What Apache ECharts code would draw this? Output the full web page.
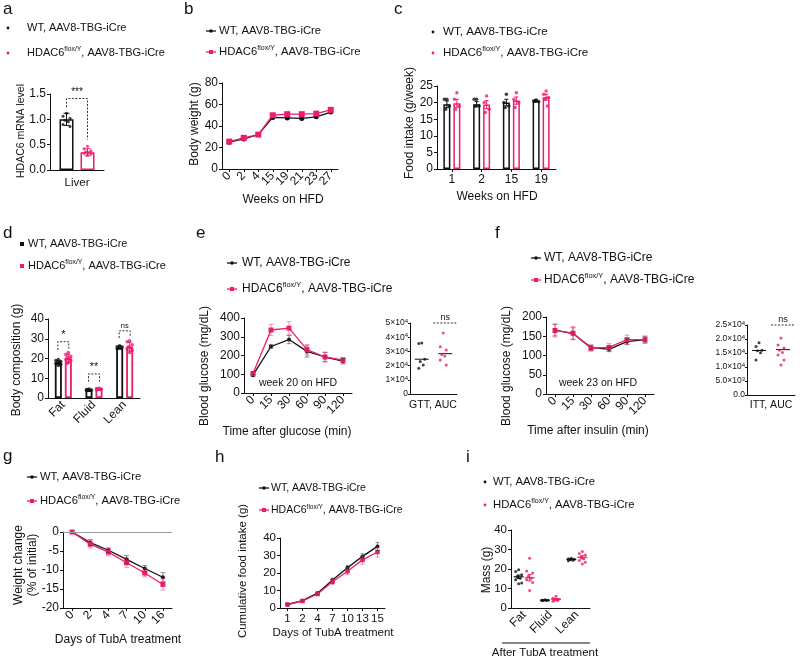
<!DOCTYPE html>
<html><head><meta charset="utf-8">
<script src="https://cdn.jsdelivr.net/npm/echarts@6/dist/echarts.min.js"></script>
<style>html,body{margin:0;padding:0;background:#fff}#c{width:800px;height:659px}</style>
</head><body><div id="c"></div>
<script>
// ---------------- DATA ----------------
// a
const aCats = ['Liver'];
const aWTmean = [1.0], aKOmean = [0.35];
const aWTsd = [0.12], aKOsd = [0.07];
const aWTdots = [[1.12, 1.06, 1.02, 0.98, 0.95, 0.90, 0.86]];
const aKOdots = [[0.47, 0.42, 0.38, 0.36, 0.35, 0.33, 0.31, 0.29]];
// b
const bWeeks = ['0', '2', '4', '15', '19', '21', '23', '27'];
const bWT = [25, 28, 32, 48, 47.5, 47, 48.5, 53];
const bKO = [25.5, 29, 32, 50, 51, 51, 51.5, 55];
// c
const cWeeks = ['1', '2', '15', '19'];
const cWTmean = [19.5, 19.5, 20, 20.5], cKOmean = [19.8, 19.4, 20.6, 21.6];
const cWTsem = [1.0, 0.8, 1.0, 0.3], cKOsem = [1.2, 1.2, 1.1, 0.9];
const cWTdots = [[21, 21, 19, 18], [21, 21, 19, 19], [22.5, 20, 19, 18.5], [20.8, 20.5, 20.3, 20.5]];
const cKOdots = [[23, 21, 19, 18], [22, 20, 18, 17], [23, 21, 20, 18.5], [23.5, 22.5, 21.5, 21, 19]];
// d
const dCats = ['Fat', 'Fluid', 'Lean'];
const dWTmean = [18, 4, 25.6], dKOmean = [20, 4.6, 26];
const dWTsd = [1.0, 0.4, 0.8], dKOsd = [2.0, 0.4, 2.2];
const dWTdots = [[19.5, 19, 18.5, 18, 18, 17.5, 17, 16.5], [4.5, 4.3, 4.1, 4, 3.9, 3.8], [26.5, 26, 25.8, 25.5, 25.2, 25]];
const dKOdots = [[23, 22, 21, 20.5, 20, 19.5, 19, 18, 17.5], [5, 4.8, 4.6, 4.5, 4.4, 4.2], [29, 28.5, 27, 26, 25.5, 25, 24, 23]];
// e
const eTimes = ['0', '15', '30', '60', '90', '120'];
const eWT = [95, 248, 285, 222, 192, 170], eWTerr = [6, 10, 22, 30, 25, 15];
const eKO = [104, 336, 346, 231, 192, 175], eKOerr = [8, 30, 35, 28, 25, 15];
const gttCats = ['WT', 'KO'];
const gttWT = [36000, 35500, 24400, 22800, 20500, 18100];
const gttKO = [43000, 33300, 31000, 27900, 26700, 24000, 20500];
const gttMed = [24500, 28400];
// f
const fTimes = ['0', '15', '30', '60', '90', '120'];
const fWT = [166, 157, 121, 116, 136, 141], fWTerr = [15, 15, 6, 6, 8, 8];
const fKO = [165, 158, 119, 121, 141, 141], fKOerr = [17, 17, 8, 10, 12, 10];
const ittCats = ['WT', 'KO'];
const ittWT = [18700, 17300, 16000, 15800, 15100, 12500];
const ittKO = [20400, 17900, 16800, 16000, 15200, 14300, 12500, 10700];
const ittMed = [15900, 16200];
// g
const gDays = ['0', '2', '4', '7', '10', '16'];
const gWT = [0, -2.8, -4.8, -7.2, -9.6, -11.9], gWTerr = [0, 0.8, 0.6, 1.0, 0.8, 1.2];
const gKO = [0, -3.2, -5.3, -8.1, -10.8, -13.8], gKOerr = [0, 1.0, 1.0, 1.2, 1.0, 1.5];
// h
const hDays = ['1', '2', '4', '7', '10', '13', '15'];
const hWT = [2, 4.2, 8.5, 16, 23, 29.5, 35.2], hWTerr = [0.3, 0.5, 0.7, 1, 1.2, 1.5, 2.3];
const hKO = [2, 4, 8, 15, 21, 27.5, 32], hKOerr = [0.3, 0.5, 0.7, 1.5, 2, 2.5, 3];
// i
const iCats = ['Fat', 'Fluid', 'Lean'];
const iWTdots = [[19.6, 18.7, 17, 16.2, 15.3, 14.5, 12.8, 12.5], [4.2, 4, 4, 3.9, 3.8, 3.8], [25.5, 25.2, 25, 24.7, 24.5, 24.2]];
const iKOdots = [[25.5, 19, 17.9, 16.2, 15.3, 14.5, 13.1, 9], [6, 5, 4.5, 4, 3.8, 3.5], [29, 28, 27.2, 26, 25.2, 24.3, 23.5, 22.6]];
const iWTmean = [16, 4, 24.9], iKOmean = [15.5, 4.5, 26];
const iWTsem = [0.9, 0.1, 0.2], iKOsem = [1.6, 0.4, 0.8];

// ---------------- STYLE / HELPERS ----------------
const FONT = "'Liberation Sans', Arial, Helvetica, sans-serif";
const BLK = '#111111';
const PINK = '#ec1c6e';
const PINK_L = 'rgba(236,28,110,0.45)';
const GRAY_E = 'rgba(60,60,60,0.55)';
const grids = [], xAxes = [], yAxes = [], series = [], graphics = [];

function panel(rect, xCats, yMin, yMax, yInt, o) {
  o = o || {};
  const gi = grids.length;
  grids.push({left: rect[0], top: rect[1], width: rect[2], height: rect[3]});
  xAxes.push({gridIndex: gi, type: 'category', data: xCats, boundaryGap: true,
    axisLine: {show: true, onZero: false, lineStyle: {color: BLK, width: 1}},
    axisTick: {show: o.xTick !== false, alignWithLabel: true, length: 3, lineStyle: {color: BLK}},
    axisLabel: {show: o.xLabel !== false, rotate: o.rot || 0, color: BLK, fontSize: o.xfs || 11.5, fontFamily: FONT, margin: o.xMargin || 5, interval: 0},
    splitLine: {show: false}});
  yAxes.push({gridIndex: gi, type: 'value', min: yMin, max: yMax, interval: yInt,
    axisLine: {show: true, lineStyle: {color: BLK, width: 1}},
    axisTick: {show: true, length: o.yTickLen || 3, lineStyle: {color: BLK}},
    axisLabel: {color: BLK, fontSize: o.yfs || 11.5, fontFamily: FONT, margin: o.yMargin || 4, formatter: o.yFmt, rich: o.rich},
    splitLine: {show: false}});
  return gi;
}
function bar(gi, vals, color, w, gap, bw) {
  series.push({type: 'bar', xAxisIndex: gi, yAxisIndex: gi, data: vals, barWidth: w, barGap: gap, silent: true, z: 2,
    itemStyle: {color: '#ffffff', borderColor: color, borderWidth: bw || 1.5}});
}
function errBars(gi, means, errs, color, dx, capW, lw) {
  series.push({type: 'custom', xAxisIndex: gi, yAxisIndex: gi, silent: true, z: 5,
    data: means.map((m, i) => [i, m, errs[i]]),
    renderItem: (p, api) => {
      const i = api.value(0), m = api.value(1), e = api.value(2);
      if (!e) return null;
      const t = api.coord([i, m + e]), b = api.coord([i, m - e]);
      const x = t[0] + dx, s = {stroke: color, lineWidth: lw || 1};
      return {type: 'group', children: [
        {type: 'line', shape: {x1: x, y1: t[1], x2: x, y2: b[1]}, style: s},
        {type: 'line', shape: {x1: x - capW / 2, y1: t[1], x2: x + capW / 2, y2: t[1]}, style: s},
        {type: 'line', shape: {x1: x - capW / 2, y1: b[1], x2: x + capW / 2, y2: b[1]}, style: s}]};
    }});
}
function hLines(gi, vals, color, dx, halfW, lw) {
  series.push({type: 'custom', xAxisIndex: gi, yAxisIndex: gi, silent: true, z: 5,
    data: vals.map((v, i) => [i, v]),
    renderItem: (p, api) => {
      const c = api.coord([api.value(0), api.value(1)]);
      const x = c[0] + dx;
      return {type: 'line', shape: {x1: x - halfW, y1: c[1], x2: x + halfW, y2: c[1]}, style: {stroke: color, lineWidth: lw || 1}};
    }});
}
const JIT = [0, -1, 1, -0.5, 0.5, -1, 1, 0, -0.5];
function dots(gi, groups, color, dx, spread, size, sym) {
  const data = [];
  groups.forEach((vals, ci) => vals.forEach((v, k) => {
    data.push({value: [ci, v], symbolOffset: [dx + JIT[k % JIT.length] * spread, 0]});
  }));
  series.push({type: 'scatter', xAxisIndex: gi, yAxisIndex: gi, data: data, symbol: sym || 'circle', symbolSize: size,
    itemStyle: {color: color}, silent: true, z: 6});
}
function line(gi, vals, color, sym, size, extra) {
  const s = {type: 'line', xAxisIndex: gi, yAxisIndex: gi, data: vals, symbol: sym, symbolSize: size, showSymbol: true,
    lineStyle: {color: color, width: 1.3}, itemStyle: {color: color}, silent: true, z: 4};
  Object.assign(s, extra || {});
  series.push(s);
}
function bracket(gi, ci, yTop, yL, yR, dx, label, fs, legs) {
  series.push({type: 'custom', xAxisIndex: gi, yAxisIndex: gi, silent: true, z: 7,
    data: [[ci, yTop, yL, yR]],
    renderItem: (p, api) => {
      const t = api.coord([api.value(0), api.value(1)]);
      const l = api.coord([api.value(0), api.value(2)]);
      const r = api.coord([api.value(0), api.value(3)]);
      const x1 = t[0] - dx, x2 = t[0] + dx;
      const pts = legs === false ? [[x1, t[1]], [x2, t[1]]] : [[x1, l[1]], [x1, t[1]], [x2, t[1]], [x2, r[1]]];
      return {type: 'group', children: [
        {type: 'polyline', shape: {points: pts}, style: {stroke: '#333', fill: null, lineWidth: 1, lineDash: [2, 1.5]}},
        {type: 'text', x: t[0], y: t[1] - 1, style: {text: label, fill: BLK, fontSize: fs, fontFamily: FONT, align: 'center', verticalAlign: 'bottom'}}
      ]};
    }});
}
function txt(x, y, s, fs, o) {
  o = o || {};
  graphics.push({type: 'text', x: x, y: y, rotation: o.rot || 0, silent: true,
    style: {text: s, fontSize: fs, fontFamily: FONT, fill: BLK, align: o.align || 'center', verticalAlign: o.va || 'middle'}});
}
function vtxt(x, y, s, fs) { txt(x, y, s, fs, {rot: Math.PI / 2}); }
function legend(x, y, tx, fs, mk, color, isKO) {
  if (mk === 'dot') graphics.push({type: 'circle', shape: {cx: x, cy: y, r: 1.4}, style: {fill: color}});
  else if (mk === 'sq') graphics.push({type: 'rect', shape: {x: x - 2, y: y - 2, width: 4, height: 4}, style: {fill: color}});
  else {
    graphics.push({type: 'line', shape: {x1: x - 5, y1: y, x2: x + 5, y2: y}, style: {stroke: color, lineWidth: 1.3}});
    if (isKO) graphics.push({type: 'rect', shape: {x: x - 2, y: y - 2, width: 4, height: 4}, style: {fill: color}});
    else graphics.push({type: 'circle', shape: {cx: x, cy: y, r: 1.8}, style: {fill: color}});
  }
  const text = isKO ? '{n|HDAC6}{s|flox/Y}{n|, AAV8-TBG-iCre}' : '{n|WT, AAV8-TBG-iCre}';
  graphics.push({type: 'text', x: tx, y: y, silent: true,
    style: {text: text, fill: BLK, align: 'left', verticalAlign: 'middle', fontSize: fs, fontFamily: FONT,
      rich: {n: {fontSize: fs, fontFamily: FONT, fill: BLK, lineHeight: fs + 3},
             s: {fontSize: fs * 0.62, fontFamily: FONT, fill: BLK, verticalAlign: 'top', lineHeight: fs + 3}}}});
}
function letter(x, y, s) { txt(x, y, s, 17, {align: 'left'}); }

// ---------------- PANEL a ----------------
letter(3, 9, 'a');
legend(8, 28, 27, 11, 'dot', BLK, false);
legend(8, 53, 27, 11, 'dot', PINK, true);
const ga = panel([50, 94, 54, 76], aCats, 0, 1.5, 0.5, {yFmt: v => v.toFixed(1), xMargin: 7, xTick: false, yfs: 12});
bar(ga, aWTmean, BLK, 14, '50%');
bar(ga, aKOmean, PINK, 14, '50%');
errBars(ga, aWTmean, aWTsd, BLK, -10.5, 6);
errBars(ga, aKOmean, aKOsd, PINK, 10.5, 6);
dots(ga, aWTdots, BLK, -10.5, 3.5, 3);
dots(ga, aKOdots, PINK, 10.5, 3.5, 3);
bracket(ga, 0, 1.41, 1.24, 0.6, 10.5, '***', 10);
vtxt(21, 131, 'HDAC6 mRNA level', 10.5);

// ---------------- PANEL b ----------------
letter(184, 9, 'b');
legend(211, 31, 219, 11.3, 'line', BLK, false);
legend(211, 52, 219, 11.3, 'line', PINK, true);
const gb = panel([222, 83, 116, 86], bWeeks, 0, 80, 20, {rot: 45, xfs: 12, yfs: 12});
line(gb, bWT, BLK, 'circle', 5);
line(gb, bKO, PINK, 'rect', 6);
vtxt(195, 124, 'Body weight (g)', 12);
txt(283, 200, 'Weeks on HFD', 12);

// ---------------- PANEL c ----------------
letter(394, 9, 'c');
legend(433, 32, 443, 11.6, 'dot', BLK, false);
legend(433, 53, 443, 11.6, 'dot', PINK, true);
const gc = panel([437, 86, 119, 83], cWeeks, 0, 25, 5, {xMargin: 5, xfs: 12, yfs: 12});
bar(gc, cWTmean, BLK, 7, '43%');
bar(gc, cKOmean, PINK, 7, '43%');
errBars(gc, cWTmean, cWTsem, BLK, -5, 4);
errBars(gc, cKOmean, cKOsem, PINK, 5, 4);
dots(gc, cWTdots, BLK, -5, 2.5, 3.5);
dots(gc, cKOdots, PINK, 5, 2.5, 3.5);
vtxt(410, 123, 'Food intake (g/week)', 12);
txt(497, 197, 'Weeks on HFD', 12);

// ---------------- PANEL d ----------------
letter(3, 233, 'd');
legend(22, 244, 28, 11, 'sq', BLK, false);
legend(22, 266, 28, 11, 'sq', PINK, true);
const gd = panel([48, 319, 92, 79], dCats, 0, 40, 10, {rot: 45, xTick: false, xfs: 12, yfs: 12});
bar(gd, dWTmean, BLK, 7, '43%', 1.8);
bar(gd, dKOmean, PINK, 7, '43%', 1.8);
errBars(gd, dWTmean, dWTsd, BLK, -5, 4);
errBars(gd, dKOmean, dKOsd, PINK, 5, 4);
dots(gd, dWTdots, BLK, -5, 2.5, 3.5);
dots(gd, dKOdots, PINK, 5, 2.5, 3.5);
bracket(gd, 0, 28.5, 24.3, 25, 5.5, '*', 11);
bracket(gd, 1, 12.2, 8.3, 8.3, 5.5, '**', 11);
bracket(gd, 2, 34, 30.4, 31, 5.5, 'ns', 7.5);
vtxt(17, 360, 'Body composition (g)', 12);

// ---------------- PANEL e ----------------
letter(196, 233, 'e');
legend(232, 263, 242, 12, 'line', BLK, false);
legend(232, 289, 242, 12, 'line', PINK, true);
const ge = panel([244, 318, 108, 75], eTimes, 0, 400, 100, {rot: 45, xfs: 12, yfs: 12});
errBars(ge, eWT, eWTerr, GRAY_E, 0, 5);
errBars(ge, eKO, eKOerr, PINK_L, 0, 5);
line(ge, eWT, BLK, 'circle', 4);
line(ge, eKO, PINK, 'rect', 5);
txt(298, 383, 'week 20 on HFD', 10.5);
vtxt(205, 366, 'Blood glucose (mg/dL)', 12);
txt(287, 432, 'Time after glucose (min)', 12);
// GTT AUC inset
const supRich = {n: {fontSize: 8.5, fontFamily: FONT, fill: BLK}, s: {fontSize: 6, fontFamily: FONT, fill: BLK, verticalAlign: 'top'}};
const ge2 = panel([410, 323, 47, 71], gttCats, 0, 50000, 10000, {xLabel: false, xTick: false, yfs: 8.5, yTickLen: 2, yMargin: 2,
  rich: supRich, yFmt: v => v === 0 ? '{n|0}' : '{n|' + (v / 1e4) + '×10}{s|4}'});
dots(ge2, [gttWT], BLK, 0, 3, 3);
dots(ge2, [[], gttKO], PINK, -2, 3, 3);
hLines(ge2, gttMed, BLK, 0, 7, 1);
bracket(ge2, 0.5, 50000, 50000, 50000, 12, 'ns', 9, false);
txt(433, 405, 'GTT, AUC', 10.5);

// ---------------- PANEL f ----------------
letter(495, 233, 'f');
legend(536, 258, 544, 12, 'line', BLK, false);
legend(536, 280, 544, 12, 'line', PINK, true);
const gf = panel([546, 317, 108, 77], fTimes, 0, 200, 50, {rot: 45, xfs: 12, yfs: 12});
errBars(gf, fWT, fWTerr, GRAY_E, 0, 5);
errBars(gf, fKO, fKOerr, PINK_L, 0, 5);
line(gf, fWT, BLK, 'circle', 4);
line(gf, fKO, PINK, 'rect', 5);
txt(598, 383, 'week 23 on HFD', 10.5);
vtxt(507, 366, 'Blood glucose (mg/dL)', 12);
txt(588, 431, 'Time after insulin (min)', 12);
// ITT AUC inset
const ge3 = panel([747, 325, 48, 70], ittCats, 0, 25000, 5000, {xLabel: false, xTick: false, yfs: 8.5, yTickLen: 2, yMargin: 2,
  rich: supRich, yFmt: v => v === 0 ? '{n|0.0}' : (v < 10000 ? '{n|' + (v / 1e3).toFixed(1) + '×10}{s|3}' : '{n|' + (v / 1e4).toFixed(1) + '×10}{s|4}')});
dots(ge3, [ittWT], BLK, 0, 3, 3);
dots(ge3, [[], ittKO], PINK, -2, 3, 3);
hLines(ge3, ittMed, BLK, 0, 7, 1);
bracket(ge3, 0.5, 25000, 25000, 25000, 12, 'ns', 9, false);
txt(771, 405, 'ITT, AUC', 10.5);

// ---------------- PANEL g ----------------
letter(3, 456, 'g');
legend(32, 477, 40, 11.2, 'line', BLK, false);
legend(32, 501, 40, 11.2, 'line', PINK, true);
const gg = panel([63, 532, 109, 76], gDays, -20, 0, 5, {rot: 45, xfs: 12, yfs: 12});
errBars(gg, gWT, gWTerr, GRAY_E, 0, 5);
errBars(gg, gKO, gKOerr, PINK_L, 0, 5);
line(gg, gWT, BLK, 'circle', 4, {markLine: {silent: true, symbol: 'none', label: {show: false}, animation: false,
  lineStyle: {color: '#9a9a9a', type: 'solid', width: 1}, data: [{yAxis: 0}]}});
line(gg, gKO, PINK, 'rect', 5);
vtxt(19, 565, 'Weight change', 12);
vtxt(33, 565, '(% of initial)', 12);
txt(118, 640, 'Days of TubA treatment', 12);

// ---------------- PANEL h ----------------
letter(215, 457, 'h');
legend(264, 488, 271, 10.5, 'line', BLK, false);
legend(264, 510, 271, 10.5, 'line', PINK, true);
const gh = panel([280, 538, 105, 70], hDays, 0, 40, 10, {xMargin: 5});
errBars(gh, hWT, hWTerr, GRAY_E, 0, 4);
errBars(gh, hKO, hKOerr, PINK_L, 0, 4);
line(gh, hWT, BLK, 'circle', 4);
line(gh, hKO, PINK, 'rect', 4.5);
vtxt(243, 571, 'Cumulative food intake (g)', 11.5);
txt(333, 633, 'Days of TubA treatment', 11.5);

// ---------------- PANEL i ----------------
letter(466, 457, 'i');
legend(485, 482, 493, 11.3, 'dot', BLK, false);
legend(485, 505, 493, 11.3, 'dot', PINK, true);
const gI = panel([511, 530, 79, 78], iCats, 0, 40, 10, {rot: 45, xTick: false, xfs: 12, yfs: 11.5});
dots(gI, iWTdots, BLK, -5.5, 3, 3);
dots(gI, iKOdots, PINK, 5.5, 3, 3);
hLines(gI, iWTmean, BLK, -5.5, 5, 1.2);
hLines(gI, iKOmean, PINK, 5.5, 5, 1.2);
errBars(gI, iWTmean, iWTsem, BLK, -5.5, 4);
errBars(gI, iKOmean, iKOsem, PINK, 5.5, 4);
vtxt(487, 570, 'Mass (g)', 12);
graphics.push({type: 'line', shape: {x1: 502, y1: 643, x2: 590, y2: 643}, style: {stroke: BLK, lineWidth: 1}});
txt(545, 653, 'After TubA treatment', 11.5);

// ---------------- CHART ----------------
const chart = echarts.init(document.getElementById('c'), null, {renderer: 'canvas'});
chart.setOption({
  animation: false,
  backgroundColor: '#ffffff',
  textStyle: {fontFamily: FONT},
  grid: grids, xAxis: xAxes, yAxis: yAxes, series: series,
  graphic: {elements: graphics}
});
</script>
</body></html>
